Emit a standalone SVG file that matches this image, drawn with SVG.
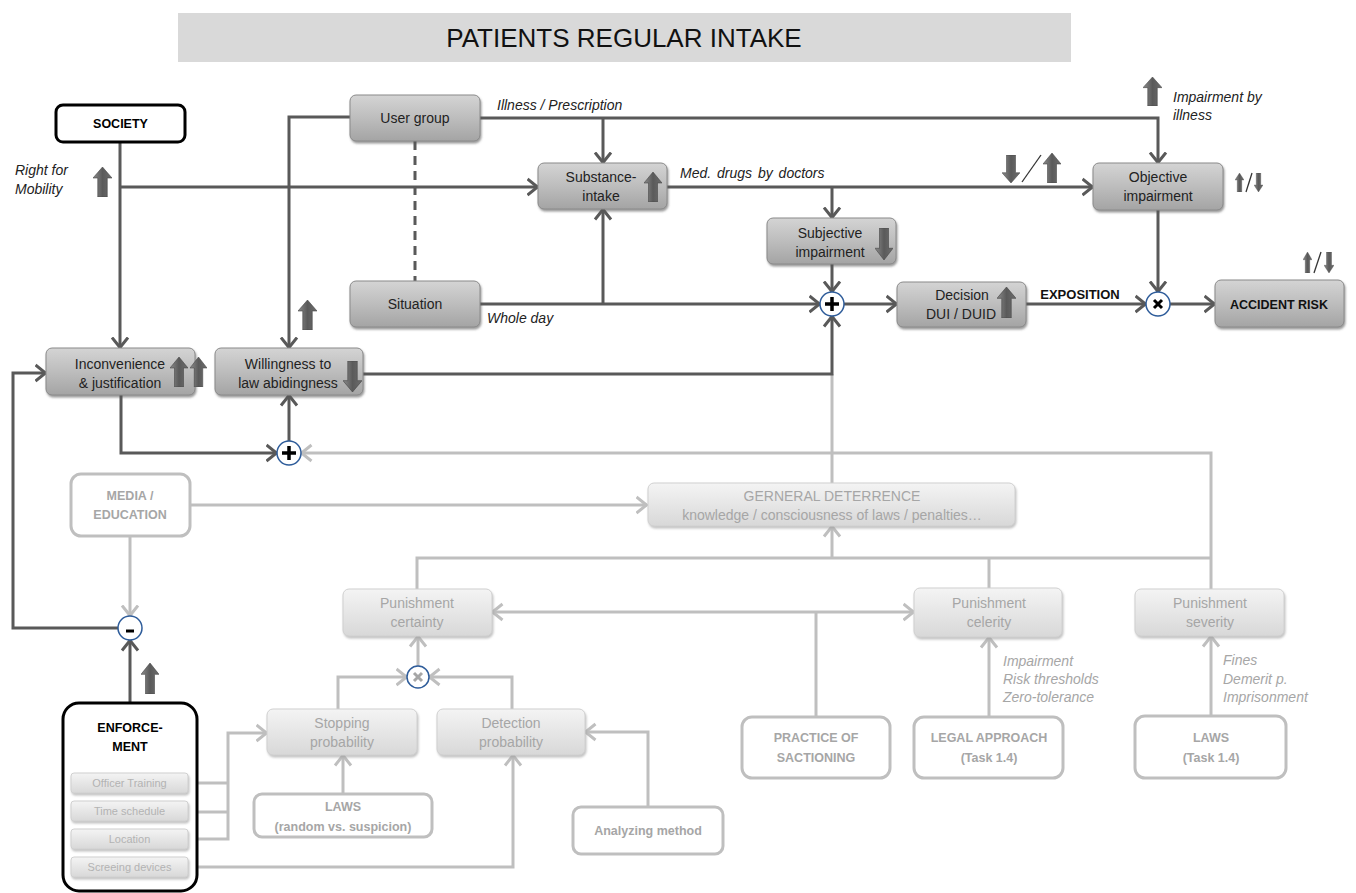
<svg xmlns="http://www.w3.org/2000/svg" width="1356" height="893" viewBox="0 0 1356 893">
<style>
.t{font-family:"Liberation Sans",Arial,sans-serif;font-size:14px;fill:#222;text-anchor:middle}
.g{fill:#a6a6a6}
.b{font-weight:bold;font-size:12.5px}
.i{font-style:italic;text-anchor:start}
.s{font-size:11px;fill:#b3b3b3}
.dk{fill:url(#gDark);stroke:#8a8a8a;stroke-width:1;filter:url(#sh)}
.lt{fill:url(#gLight);stroke:#d0d0d0;stroke-width:1;filter:url(#shL)}
.ob{fill:#fff;stroke:#000;stroke-width:3}
.ol{fill:#fff;stroke:#bfbfbf;stroke-width:3}
.cd{fill:none;stroke:#595959;stroke-width:3}
.cl{fill:none;stroke:#bfbfbf;stroke-width:3}
.ad{marker-end:url(#mD)}
.al{marker-end:url(#mL)}
.op{fill:#fff;stroke:#2e5c9a;stroke-width:1.5}
.sl{stroke:#333;stroke-width:1.3}
</style>
<defs>
<linearGradient id="gDark" x1="0" y1="0" x2="0" y2="1">
<stop offset="0" stop-color="#d4d4d4"/><stop offset="0.5" stop-color="#bdbdbd"/><stop offset="1" stop-color="#a4a4a4"/>
</linearGradient>
<linearGradient id="gLight" x1="0" y1="0" x2="0" y2="1">
<stop offset="0" stop-color="#f4f4f4"/><stop offset="0.5" stop-color="#e6e6e6"/><stop offset="1" stop-color="#d8d8d8"/>
</linearGradient>
<linearGradient id="gArr" x1="0" y1="0" x2="1" y2="0">
<stop offset="0" stop-color="#8c8c8c"/><stop offset="0.5" stop-color="#5a5a5a"/><stop offset="1" stop-color="#6e6e6e"/>
</linearGradient>
<filter id="sh" x="-10%" y="-20%" width="130%" height="150%">
<feDropShadow dx="1" dy="2" stdDeviation="1" flood-color="#555" flood-opacity="0.6"/>
</filter>
<filter id="shL" x="-10%" y="-20%" width="130%" height="150%">
<feDropShadow dx="1" dy="2" stdDeviation="1" flood-color="#999" flood-opacity="0.6"/>
</filter>
<marker id="mD" viewBox="0 0 15 20" refX="11.5" refY="10" markerWidth="15" markerHeight="20" markerUnits="userSpaceOnUse" orient="auto">
<path d="M1,2 L11,10 L1,18" fill="none" stroke="#595959" stroke-width="3"/>
</marker>
<marker id="mL" viewBox="0 0 15 20" refX="11.5" refY="10" markerWidth="15" markerHeight="20" markerUnits="userSpaceOnUse" orient="auto-start-reverse">
<path d="M1,2 L11,10 L1,18" fill="none" stroke="#bfbfbf" stroke-width="3"/>
</marker>
<symbol id="up" viewBox="0 0 20 30" preserveAspectRatio="none">
<path d="M10,0 L20,11 L15,11 L15,30 L5,30 L5,11 L0,11 Z" fill="url(#gArr)" stroke="#444" stroke-width="0.6"/>
</symbol>
<symbol id="dn" viewBox="0 0 20 30" preserveAspectRatio="none">
<path d="M5,0 L15,0 L15,19 L20,19 L10,30 L0,19 L5,19 Z" fill="url(#gArr)" stroke="#444" stroke-width="0.6"/>
</symbol>
</defs>

<rect x="0" y="0" width="1356" height="893" fill="#fff"/>

<g id="title">
<rect x="178" y="13" width="893" height="49" fill="#d9d9d9"/>
<text class="t" x="624" y="47" style="font-size:26px;fill:#111">PATIENTS REGULAR INTAKE</text>
</g>

<g id="connectors">
<!-- light connectors -->
<path class="cl al" d="M190,505 H647"/>
<path class="cl al" d="M130,536 V616"/>
<path class="cl" d="M832,483 V374"/>
<path class="cl al" d="M1211,589 V453 H301"/>
<path class="cl" d="M417,589 V558 H1211"/>
<path class="cl" d="M989,588 V558"/>
<path class="cl al" d="M832,558 V526"/>
<path class="cl al" d="M492,612 H914" marker-start="url(#mL)"/>
<path class="cl" d="M816,717 V612"/>
<path class="cl al" d="M989,717 V637"/>
<path class="cl al" d="M1211,716 V636"/>
<path class="cl al" d="M418,666 V636"/>
<path class="cl al" d="M338,709 V677 H407"/>
<path class="cl al" d="M512,709 V677 H429"/>
<path class="cl al" d="M343,794 V755"/>
<path class="cl al" d="M648,807 V732 H585"/>
<path class="cl al" d="M188,867 H513 V755"/>
<path class="cl" d="M188,783 H228 M188,812 H228"/>
<path class="cl al" d="M188,839 H228 V733 H267"/>
<!-- dark connectors -->
<path class="cd ad" d="M120,142 V348"/>
<path class="cd ad" d="M120,187 H538"/>
<path class="cd ad" d="M350,117 H289 V348"/>
<path class="cd" d="M415,141 V281" stroke-dasharray="9,6"/>
<path class="cd ad" d="M480,118 H1158 V163"/>
<path class="cd ad" d="M603,118 V163"/>
<path class="cd ad" d="M667,187 H1093"/>
<path class="cd ad" d="M832,187 V218"/>
<path class="cd ad" d="M480,304 H820"/>
<path class="cd ad" d="M603,304 V209"/>
<path class="cd ad" d="M832,264 V292"/>
<path class="cd ad" d="M363,374 H832 V316"/>
<path class="cd ad" d="M844,304 H897"/>
<path class="cd ad" d="M1026,304 H1146"/>
<path class="cd ad" d="M1158,210 V292"/>
<path class="cd ad" d="M1170,304 H1215"/>
<path class="cd ad" d="M121,395 V453 H277"/>
<path class="cd ad" d="M289,441 V395"/>
<path class="cd ad" d="M118,628 H13 V373 H46"/>
<path class="cd ad" d="M130,703 V640"/>
</g>

<g id="society">
<rect class="ob" x="56" y="105" width="129" height="37" rx="7"/>
<text class="t b" x="120.5" y="128" style="fill:#000">SOCIETY</text>
</g>
<g id="right-for-mobility">
<text class="t i" x="15" y="175">Right for</text>
<text class="t i" x="15" y="194">Mobility</text>
<use href="#up" x="93" y="167" width="19" height="30"/>
</g>
<g id="user-group">
<rect class="dk" x="350" y="95" width="130" height="46" rx="6"/>
<text class="t" x="415" y="123">User group</text>
</g>
<g id="situation">
<rect class="dk" x="350" y="281" width="130" height="46" rx="6"/>
<text class="t" x="415" y="309">Situation</text>
</g>
<g id="labels-top">
<text class="t i" x="497" y="110">Illness / Prescription</text>
<text class="t i" x="680" y="178" style="word-spacing:2px">Med. drugs by doctors</text>
<text class="t i" x="487" y="323">Whole day</text>
<text class="t i" x="1173" y="102">Impairment by</text>
<text class="t i" x="1173" y="120">illness</text>
<use href="#up" x="1143" y="77" width="19" height="29"/>
<use href="#dn" x="1002" y="155" width="18" height="28"/>
<line class="sl" x1="1022" y1="182" x2="1041" y2="155"/>
<use href="#up" x="1043" y="153" width="18" height="30"/>
</g>
<g id="substance-intake">
<rect class="dk" x="538" y="163" width="129" height="46" rx="6"/>
<text class="t" x="601" y="182">Substance-</text>
<text class="t" x="601" y="201">intake</text>
<use href="#up" x="644" y="172" width="18" height="30"/>
</g>
<g id="subjective-impairment">
<rect class="dk" x="767" y="218" width="129" height="46" rx="6"/>
<text class="t" x="830" y="238">Subjective</text>
<text class="t" x="830" y="257">impairment</text>
<use href="#dn" x="875" y="228" width="18" height="32"/>
</g>
<g id="objective-impairment">
<rect class="dk" x="1093" y="163" width="130" height="47" rx="6"/>
<text class="t" x="1158" y="182">Objective</text>
<text class="t" x="1158" y="201">impairment</text>
<use href="#up" x="1235" y="173" width="9" height="19"/>
<line class="sl" x1="1246" y1="192" x2="1252" y2="173"/>
<use href="#dn" x="1254" y="173" width="9" height="19"/>
</g>
<g id="decision">
<rect class="dk" x="897" y="282" width="129" height="45" rx="6"/>
<text class="t" x="962" y="300">Decision</text>
<text class="t" x="961" y="319">DUI / DUID</text>
<use href="#up" x="997" y="287" width="19" height="31"/>
</g>
<g id="exposition">
<text class="t b" x="1080" y="299" style="font-size:13px;fill:#111">EXPOSITION</text>
</g>
<g id="accident-risk">
<rect class="dk" x="1215" y="280" width="129" height="47" rx="6"/>
<text class="t b" x="1279" y="309" style="fill:#111">ACCIDENT RISK</text>
<use href="#up" x="1303" y="252" width="9" height="21"/>
<line class="sl" x1="1314" y1="273" x2="1321" y2="252"/>
<use href="#dn" x="1324" y="252" width="10" height="21"/>
</g>
<g id="inconvenience">
<rect class="dk" x="46" y="348" width="149" height="47" rx="6"/>
<text class="t" x="120" y="369">Inconvenience</text>
<text class="t" x="120" y="388">&amp; justification</text>
<use href="#up" x="170" y="357" width="18" height="30"/>
<use href="#up" x="190" y="357" width="17" height="30"/>
</g>
<g id="willingness">
<rect class="dk" x="215" y="348" width="148" height="47" rx="6"/>
<text class="t" x="288" y="369">Willingness to</text>
<text class="t" x="288" y="388">law abidingness</text>
<use href="#dn" x="343" y="361" width="19" height="31"/>
<use href="#up" x="298" y="300" width="19" height="30"/>
</g>
<g id="op-plus-1">
<circle class="op" cx="832" cy="304" r="12"/>
<path d="M825,304 H839 M832,297 V311" stroke="#000" stroke-width="3.5"/>
</g>
<g id="op-times-1">
<circle class="op" cx="1158" cy="304" r="12"/>
<path d="M1154,300 L1162,308 M1162,300 L1154,308" stroke="#000" stroke-width="3"/>
</g>
<g id="op-plus-2">
<circle class="op" cx="289" cy="453" r="12"/>
<path d="M282,453 H296 M289,446 V460" stroke="#000" stroke-width="3.5"/>
</g>
<g id="op-minus">
<circle class="op" cx="130" cy="628" r="12"/>
<path d="M126,631 H134" stroke="#000" stroke-width="3"/>
</g>
<g id="op-times-2">
<circle class="op" cx="418" cy="677" r="11"/>
<path d="M414,673 L422,681 M422,673 L414,681" stroke="#a6a6a6" stroke-width="3"/>
</g>
<g id="media-education">
<rect class="ol" x="71" y="474" width="119" height="62" rx="10"/>
<text class="t b g" x="130" y="500">MEDIA /</text>
<text class="t b g" x="130" y="519">EDUCATION</text>
</g>
<g id="general-deterrence">
<rect class="lt" x="648" y="483" width="367" height="43" rx="6"/>
<text class="t g" x="832" y="501">GERNERAL DETERRENCE</text>
<text class="t g" x="832" y="520">knowledge / consciousness of laws / penalties…</text>
</g>
<g id="punishment-certainty">
<rect class="lt" x="343" y="589" width="149" height="47" rx="6"/>
<text class="t g" x="417" y="608">Punishment</text>
<text class="t g" x="417" y="627">certainty</text>
</g>
<g id="punishment-celerity">
<rect class="lt" x="914" y="588" width="148" height="49" rx="6"/>
<text class="t g" x="989" y="608">Punishment</text>
<text class="t g" x="989" y="627">celerity</text>
</g>
<g id="punishment-severity">
<rect class="lt" x="1135" y="589" width="149" height="47" rx="6"/>
<text class="t g" x="1210" y="608">Punishment</text>
<text class="t g" x="1210" y="627">severity</text>
</g>
<g id="stopping-probability">
<rect class="lt" x="267" y="709" width="150" height="46" rx="6"/>
<text class="t g" x="342" y="728">Stopping</text>
<text class="t g" x="342" y="747">probability</text>
</g>
<g id="detection-probability">
<rect class="lt" x="437" y="709" width="148" height="46" rx="6"/>
<text class="t g" x="511" y="728">Detection</text>
<text class="t g" x="511" y="747">probability</text>
</g>
<g id="laws-random">
<rect class="ol" x="254" y="794" width="178" height="43" rx="8"/>
<text class="t b g" x="343" y="811">LAWS</text>
<text class="t b g" x="343" y="831">(random vs. suspicion)</text>
</g>
<g id="analyzing-method">
<rect class="ol" x="573" y="807" width="150" height="47" rx="8"/>
<text class="t b g" x="648" y="835">Analyzing method</text>
</g>
<g id="practice">
<rect class="ol" x="742" y="717" width="148" height="61" rx="10"/>
<text class="t b g" x="816" y="742">PRACTICE OF</text>
<text class="t b g" x="816" y="762">SACTIONING</text>
</g>
<g id="legal-approach">
<rect class="ol" x="914" y="717" width="149" height="61" rx="10"/>
<text class="t b g" x="989" y="742">LEGAL APPROACH</text>
<text class="t b g" x="989" y="762">(Task 1.4)</text>
<text class="t i g" x="1003" y="666">Impairment</text>
<text class="t i g" x="1003" y="684">Risk thresholds</text>
<text class="t i g" x="1003" y="702">Zero-tolerance</text>
</g>
<g id="laws-task">
<rect class="ol" x="1135" y="716" width="151" height="62" rx="10"/>
<text class="t b g" x="1211" y="742">LAWS</text>
<text class="t b g" x="1211" y="762">(Task 1.4)</text>
<text class="t i g" x="1223" y="665">Fines</text>
<text class="t i g" x="1223" y="684">Demerit p.</text>
<text class="t i g" x="1223" y="702">Imprisonment</text>
</g>
<g id="enforcement">
<rect class="ob" x="63" y="703" width="134" height="188" rx="16"/>
<text class="t b" x="130" y="732" style="fill:#000">ENFORCE-</text>
<text class="t b" x="130" y="751" style="fill:#000">MENT</text>
<use href="#up" x="141" y="663" width="18" height="31"/>
<rect class="lt" x="71" y="773" width="117" height="20" rx="3"/>
<text class="t s" x="129.5" y="787">Officer Training</text>
<rect class="lt" x="71" y="801" width="117" height="20" rx="3"/>
<text class="t s" x="129.5" y="815">Time schedule</text>
<rect class="lt" x="71" y="829" width="117" height="20" rx="3"/>
<text class="t s" x="129.5" y="843">Location</text>
<rect class="lt" x="71" y="857" width="117" height="20" rx="3"/>
<text class="t s" x="129.5" y="871">Screeing devices</text>
</g>
</svg>
